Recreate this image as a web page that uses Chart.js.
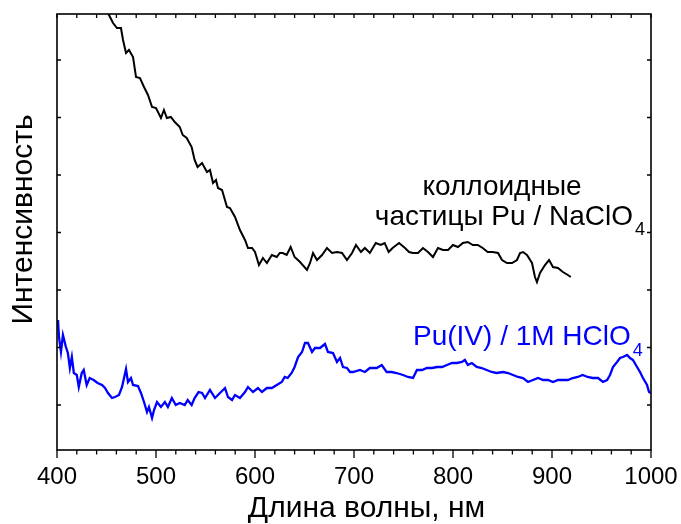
<!DOCTYPE html>
<html>
<head>
<meta charset="utf-8">
<script src="https://cdn.jsdelivr.net/npm/chart.js@4"></script>
<style>
  html, body { margin: 0; padding: 0; background: #fff; }
</style>
</head>
<body>
<canvas id="chart" width="681" height="524"></canvas>
<script>
// colloidal Pu particles / NaClO4 (black)
const colloidWl = [448.5, 452.5, 456.6, 460.6, 464.6, 466.7, 469.7, 472.7, 476.8, 479.8, 483.8, 487.9, 491.9, 496, 500, 505, 508, 511, 515, 519, 524, 527, 531,
  536, 539, 542, 546.5, 551.5, 554.5, 557.6, 560.6, 562.6, 566.7, 571.7, 574.7, 579.8, 584.8, 589.9, 592.9, 597, 600, 604, 608, 612, 617, 622, 625,
  628, 632, 636, 640, 645.5, 652.5, 655.6, 658.6, 662.6, 667.7, 672.7, 677.8, 682.8, 687.9, 692.9, 698, 702, 707, 711, 716, 722, 727, 731, 735, 739,
  745.5, 751.5, 755.6, 759.6, 764.6, 769.7, 774.7, 779.8, 784.8, 789.9, 795, 800, 805, 810, 815, 820, 825, 830, 835, 840, 845.5, 849.5, 854.5, 859.6,
  864.6, 867.7, 870.7, 874.7, 879.8, 882.8, 884.8, 887.9, 892.9, 897, 901, 906, 911, 916, 919];
const colloidInt = [444, 435, 427, 422, 422, 410, 397, 400, 393, 373, 372, 363, 355, 343, 342, 332, 340, 332, 333, 328, 323, 315, 312,
  303, 290, 283, 287, 278, 280, 267, 270, 262, 260, 243, 242, 233, 220, 210, 202, 202, 198, 185, 192, 187, 195, 193, 197,
  197, 195, 203, 193, 188, 180, 187, 197, 190, 195, 202, 197, 198, 197, 190, 197, 205, 198, 202, 197, 207, 205, 207, 198, 202,
  207, 202, 198, 197, 197, 202, 198, 193, 202, 200, 200, 205, 203, 207, 208, 205, 205, 202, 198, 198, 197, 190, 187, 187,
  190, 197, 198, 195, 187, 173, 168, 177, 185, 190, 183, 182, 178, 175, 173];

// Pu(IV) / 1M HClO4 (blue)
const pu4Wl = [400, 401, 402, 404, 406, 409, 411, 413, 415, 417, 420, 422, 425, 427, 430, 433, 437, 441, 445.5, 448.5, 451.5, 455.5, 458.6, 462.6,
  465.7, 467.7, 469.7, 471.7, 474.7, 476.8, 481.8, 484.8, 487.9, 490.9, 492.9, 496, 498, 501, 505, 509, 512, 516, 520, 524, 529, 532, 536, 539,
  543, 546.5, 549.5, 554.5, 559.6, 564.6, 569.7, 572.7, 576.8, 579.8, 584.8, 589.9, 592.9, 598, 603, 607, 612, 617, 622, 627, 630, 633, 637, 640,
  643.5, 647.5, 650.5, 653.5, 657.6, 660.6, 665.7, 670.7, 673.7, 678.8, 682.8, 685.9, 688.9, 692.9, 696, 699, 706, 711, 716, 723, 728, 733, 738,
  743, 749.5, 754.5, 759.6, 763.6, 768.7, 773.7, 778.8, 783.8, 788.9, 793.9, 799, 804, 809, 812, 815, 819, 824, 829, 834, 839, 844, 850.5, 855.6,
  860.6, 865.7, 870.7, 875.8, 880.8, 885.9, 891, 896, 901, 906, 911, 916, 921, 926, 931, 936, 941, 946.5, 951.5, 955.6, 958.6, 961.6, 965.7,
  968.7, 971.7, 975.8, 978.8, 981.8, 985.9, 988.9, 991.9, 996, 998, 1000];
const pu4Int = [128, 130, 113, 98, 115, 103, 97, 82, 93, 77, 75, 63, 77, 80, 65, 72, 70, 67, 65, 62, 57, 52, 53, 55,
  63, 72, 81, 68, 72, 65, 64, 57, 48, 38, 43, 32, 40, 48, 43, 48, 43, 52, 45, 47, 45, 50, 45, 52,
  58, 57, 52, 60, 52, 57, 62, 53, 50, 55, 52, 58, 63, 58, 62, 58, 62, 62, 65, 68, 73, 72, 77, 83,
  93, 98, 107, 107, 98, 102, 102, 106, 98, 97, 88, 92, 83, 82, 78, 78, 80, 78, 82, 82, 85, 78, 78,
  77, 75, 73, 72, 80, 80, 82, 82, 83, 83, 85, 87, 87, 88, 90, 85, 87, 83, 82, 80, 78, 77, 78, 77,
  75, 73, 72, 68, 70, 72, 70, 70, 68, 70, 70, 70, 72, 73, 75, 73, 72, 72, 68, 70, 75, 83, 88,
  92, 93, 95, 92, 90, 83, 78, 72, 65, 58, 57];

const xTicks = [400, 500, 600, 700, 800, 900, 1000];
const yTicks = [45, 102.5, 160, 217.5, 275, 332.5, 390];

function toPoints(xs, ys) {
  return xs.map((x, i) => ({ x: x, y: ys[i] }));
}

const fontFamily = '"Liberation Sans", Arial, sans-serif';

// frame, inward/outward tick marks and the in-plot labels
const framePlugin = {
  id: 'frame',
  afterDraw(chart) {
    const ctx = chart.ctx;
    const a = chart.chartArea;
    const xs = chart.scales.x, ys = chart.scales.y;
    ctx.save();
    ctx.strokeStyle = '#000';
    ctx.lineWidth = 1.6;
    ctx.strokeRect(a.left, a.top, a.right - a.left, a.bottom - a.top);

    ctx.lineWidth = 1.3;
    ctx.beginPath();
    for (let v = 400; v <= 1000; v += 20) {
      const px = xs.getPixelForValue(v);
      const len = v % 100 === 0 ? 8 : 4.5;
      ctx.moveTo(px, a.bottom);
      ctx.lineTo(px, a.bottom + len);
      ctx.moveTo(px, a.top);
      ctx.lineTo(px, a.top + 4);
    }
    yTicks.forEach(v => {
      const py = ys.getPixelForValue(v);
      ctx.moveTo(a.left, py);
      ctx.lineTo(a.left + 4, py);
      ctx.moveTo(a.right, py);
      ctx.lineTo(a.right - 4, py);
    });
    ctx.stroke();

    // labels
    ctx.textBaseline = 'alphabetic';
    ctx.fillStyle = '#000';
    ctx.font = '28px ' + fontFamily;
    ctx.textAlign = 'center';
    ctx.fillText('коллоидные', xs.getPixelForValue(849.5), ys.getPixelForValue(255));
    ctx.textAlign = 'left';
    let x0 = xs.getPixelForValue(721);
    let y0 = ys.getPixelForValue(225);
    const line2 = 'частицы Pu / NaClO';
    ctx.fillText(line2, x0, y0);
    let w = ctx.measureText(line2).width;
    ctx.font = '18px ' + fontFamily;
    ctx.fillText('4', x0 + w + 2, y0 + 10);

    ctx.fillStyle = '#0000ff';
    ctx.font = '28px ' + fontFamily;
    x0 = xs.getPixelForValue(759.6);
    y0 = ys.getPixelForValue(105);
    const blueText = 'Pu(IV) / 1M HClO';
    ctx.fillText(blueText, x0, y0);
    w = ctx.measureText(blueText).width;
    ctx.font = '18px ' + fontFamily;
    ctx.fillText('4', x0 + w + 2, y0 + 11);
    ctx.restore();
  }
};

const ctx = document.getElementById('chart').getContext('2d');
const spectraChart = new Chart(ctx, {
  type: 'line',
  data: {
    datasets: [{
      label: 'коллоидные частицы Pu / NaClO4',
      data: toPoints(colloidWl, colloidInt),
      borderColor: '#000000',
      borderWidth: 2,
      pointRadius: 0,
      fill: false
    }, {
      label: 'Pu(IV) / 1M HClO4',
      data: toPoints(pu4Wl, pu4Int),
      borderColor: '#0000ff',
      borderWidth: 2.3,
      pointRadius: 0,
      fill: false
    }]
  },
  options: {
    responsive: false,
    animation: false,
    devicePixelRatio: 1,
    layout: { padding: { left: 0, right: 30, top: 14, bottom: 0 } },
    plugins: {
      legend: { display: false },
      tooltip: { enabled: false }
    },
    scales: {
      x: {
        type: 'linear',
        min: 400,
        max: 1000,
        afterBuildTicks: scale => { scale.ticks = xTicks.map(v => ({ value: v })); },
        afterFit: scale => {
          scale.height = 74;
          scale.paddingLeft = 0;
          scale.paddingRight = 0;
        },
        grid: { display: false, drawTicks: false },
        border: { display: false },
        ticks: {
          color: '#000',
          font: { family: fontFamily, size: 24 },
          padding: 12.6,
          maxRotation: 0,
          autoSkip: false,
          callback: v => String(v)
        },
        title: {
          display: true,
          text: '   Длина волны, нм',
          color: '#000',
          font: { family: fontFamily, size: 30, lineHeight: 1 },
          padding: { top: 0, bottom: 0 }
        }
      },
      y: {
        type: 'linear',
        min: 0,
        max: 436,
        afterBuildTicks: scale => { scale.ticks = yTicks.map(v => ({ value: v })); },
        afterFit: scale => { scale.width = 57; },
        grid: { display: false, drawTicks: false },
        border: { display: false },
        ticks: { display: false },
        title: {
          display: true,
          text: '   Интенсивность',
          color: '#000',
          font: { family: fontFamily, size: 30 },
          padding: { top: 6, bottom: 0 }
        }
      }
    }
  },
  plugins: [framePlugin]
});
</script>
</body>
</html>
